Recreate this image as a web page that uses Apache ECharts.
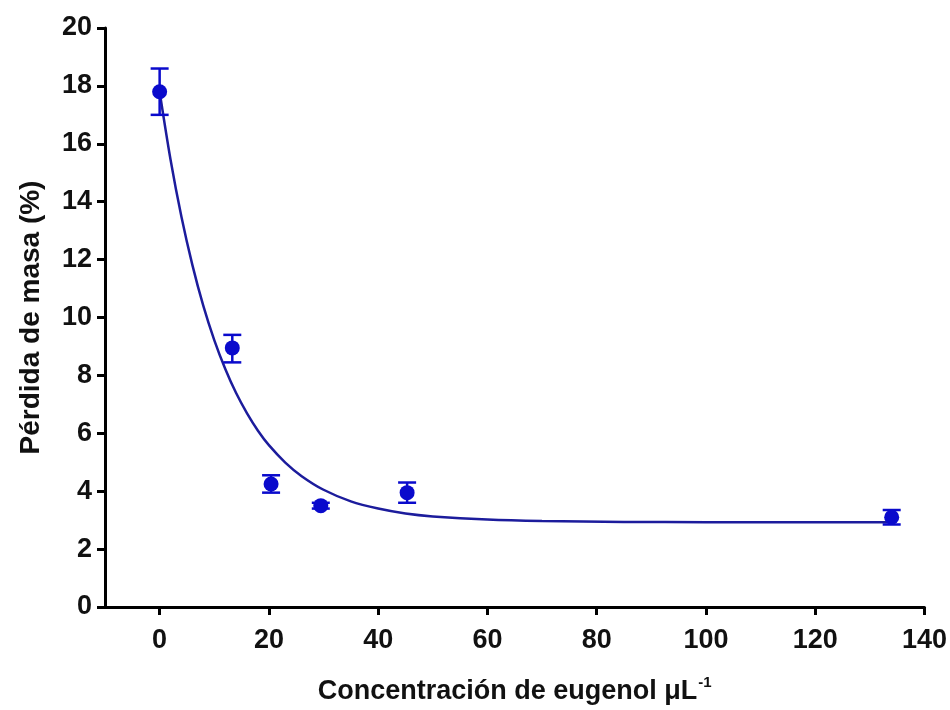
<!DOCTYPE html>
<html>
<head>
<meta charset="utf-8">
<script src="https://cdn.jsdelivr.net/npm/echarts@6/dist/echarts.min.js"></script>
<style>
  html, body { margin: 0; padding: 0; background: #fff; }
  #chart { width: 950px; height: 710px; }
</style>
</head>
<body>
<div id="chart"></div>
<script>
// measured points (mean, lower / upper error)
const concX = [0, 13.3, 20.4, 29.5, 45.3, 134];
const lossY = [17.8, 8.95, 4.25, 3.5, 3.95, 3.1];
const errLow = [17.0, 8.45, 3.95, 3.4, 3.6, 2.85];
const errHigh = [18.6, 9.4, 4.55, 3.6, 4.3, 3.35];

// fitted curve
const fitX = [0, 2, 4, 6, 8, 10, 12, 14, 16, 18, 20, 23, 26, 30, 35, 40, 45, 50, 60, 70, 85, 100, 115, 134];
const fitY = [17.8, 15.45, 13.47, 11.81, 10.4, 9.22, 8.23, 7.39, 6.69, 6.09, 5.59, 4.99, 4.52, 4.05, 3.65, 3.40, 3.23, 3.13, 3.02, 2.97, 2.94, 2.93, 2.93, 2.93];

const xTicks = [0, 20, 40, 60, 80, 100, 120, 140];

const blue = "#0a0acc";
const navy = "#1c1c9c";
const font = "Liberation Sans, Arial, sans-serif";

let myChart = echarts.init(document.getElementById("chart"));

const points = concX.map((x, i) => [x, lossY[i]]);
const bars = concX.map((x, i) => [x, errLow[i], errHigh[i]]);
const curve = fitX.map((x, i) => [x, fitY[i]]);

const option = {
  animation: false,
  grid: { left: 105, right: 24, top: 28, bottom: 102 },
  xAxis: {
    type: "value",
    min: -10,
    max: 140,
    name: "{t|Concentración de eugenol μL}{s|-1}",
    nameLocation: "middle",
    nameGap: 68,
    nameTextStyle: {
      rich: {
        t: { fontFamily: font, fontWeight: "bold", fontSize: 27, color: "#111" },
        s: { fontFamily: font, fontWeight: "bold", fontSize: 15, color: "#111", verticalAlign: "top", padding: [0, 0, 18, 1] },
      },
    },
    splitLine: { show: false },
    axisLine: { onZero: false, lineStyle: { color: "#000", width: 3 } },
    axisTick: { show: true, length: 8, customValues: xTicks, lineStyle: { color: "#000", width: 3 } },
    axisLabel: {
      customValues: xTicks,
      margin: 20,
      fontFamily: font,
      fontWeight: "bold",
      fontSize: 27,
      color: "#111",
    },
  },
  yAxis: {
    type: "value",
    min: 0,
    max: 20,
    interval: 2,
    name: "Pérdida de masa (%)",
    nameLocation: "middle",
    nameGap: 60,
    nameTextStyle: { fontFamily: font, fontWeight: "bold", fontSize: 28, color: "#111" },
    splitLine: { show: false },
    axisLine: { show: true, onZero: false, lineStyle: { color: "#000", width: 3 } },
    axisTick: { show: true, length: 8, lineStyle: { color: "#000", width: 3 } },
    axisLabel: {
      margin: 13,
      fontFamily: font,
      fontWeight: "bold",
      fontSize: 27,
      color: "#111",
    },
  },
  series: [
    {
      name: "ajuste",
      type: "line",
      data: curve,
      smooth: 0.3,
      showSymbol: false,
      lineStyle: { color: navy, width: 2.5 },
      z: 2,
    },
    {
      name: "error",
      type: "custom",
      data: bars,
      renderItem: function (params, api) {
        const x = api.value(0);
        const lo = api.coord([x, api.value(1)]);
        const hi = api.coord([x, api.value(2)]);
        const half = 9;
        const style = { stroke: blue, lineWidth: 2.5 };
        return {
          type: "group",
          children: [
            { type: "line", shape: { x1: lo[0], y1: lo[1], x2: hi[0], y2: hi[1] }, style: style },
            { type: "line", shape: { x1: lo[0] - half, y1: lo[1], x2: lo[0] + half, y2: lo[1] }, style: style },
            { type: "line", shape: { x1: hi[0] - half, y1: hi[1], x2: hi[0] + half, y2: hi[1] }, style: style },
          ],
        };
      },
      z: 3,
    },
    {
      name: "media",
      type: "scatter",
      data: points,
      symbol: "circle",
      symbolSize: 15,
      itemStyle: { color: blue, opacity: 1 },
      z: 4,
    },
  ],
};

myChart.setOption(option, true);
</script>
</body>
</html>
